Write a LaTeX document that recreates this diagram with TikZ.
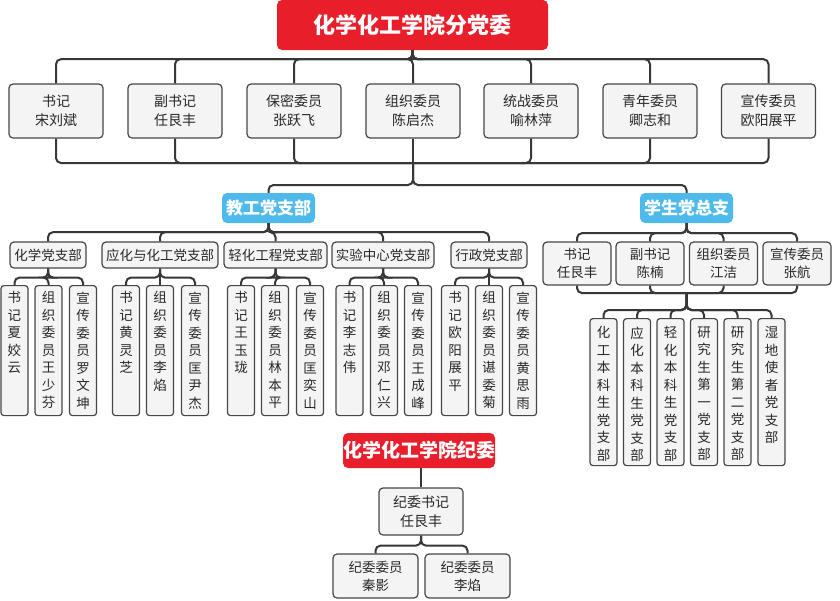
\documentclass[tikz,border=0pt]{standalone}
\usepackage{fontspec}
\setmainfont{Noto Sans CJK SC}
\definecolor{redc}{RGB}{232,30,42}
\definecolor{bluec}{RGB}{78,186,236}
\definecolor{boxc}{RGB}{244,244,244}
\definecolor{bordc}{RGB}{70,70,70}
\definecolor{linec}{RGB}{55,55,55}
\definecolor{txtc}{RGB}{40,40,40}
\def\vtloop#1{\ifx\relax#1\else#1\par\expandafter\vtloop\fi}
\newcommand\vtext[2]{\parbox[t][#1][t]{14pt}{\centering\fontsize{13.5}{17.5}\selectfont\vtloop#2\relax}}
\tikzset{
 conn/.style={draw=linec, line width=2pt, rounded corners=5pt},
 gbox/.style={draw=bordc, fill=boxc, line width=1.2pt, rounded corners=4pt, inner sep=0pt, align=center, text=txtc},
 topbox/.style={gbox, minimum width=94pt, minimum height=54pt, font=\fontsize{14}{19}\selectfont},
 redbox/.style={fill=redc, rounded corners=5pt, text=white, inner sep=0pt},
 bluebox/.style={fill=bluec, rounded corners=5pt, text=white, inner sep=0pt, minimum width=93pt, minimum height=30pt, font=\fontsize{17}{20}\selectfont\bfseries},
 brbox/.style={gbox, minimum height=26pt, font=\fontsize{13.5}{16}\selectfont},
 stbox/.style={gbox, minimum width=68pt, minimum height=43pt, font=\fontsize{13.5}{17.5}\selectfont},
 leaf/.style={gbox, anchor=north, inner xsep=6.5pt, inner ysep=6pt, rounded corners=3pt},
 jwbox/.style={gbox, font=\fontsize{13.5}{18}\selectfont},
}
\begin{document}
\begin{tikzpicture}[x=1pt,y=-1pt]
\useasboundingbox (0,0) rectangle (840,600);
% top
\node[redbox, minimum width=271pt, minimum height=50pt, font=\fontsize{22}{26}\selectfont\bfseries] (t) at (412.5,25) {化学化工学院分党委};
\node[topbox] (b1) at (56,111) {书记\\宋刘斌};
\node[topbox] (b2) at (175,111) {副书记\\任艮丰};
\node[topbox] (b3) at (294,111) {保密委员\\张跃飞};
\node[topbox] (b4) at (413,111) {组织委员\\陈启杰};
\node[topbox] (b5) at (531,111) {统战委员\\喻林萍};
\node[topbox] (b6) at (650,111) {青年委员\\卿志和};
\node[topbox] (b7) at (768.5,111) {宣传委员\\欧阳展平};
\foreach \i in {1,...,7}{\draw[conn] (t.south) -- ++(0,9) -| (b\i.north);}
\coordinate (sum1) at (413,163);
\foreach \i in {1,...,7}{\draw[conn] (b\i.south) |- (sum1);}
% second level
\node[bluebox] (jg) at (268.5,208) {教工党支部};
\node[bluebox] (xs) at (686.5,208) {学生党总支};
\draw[conn] (sum1) -- ++(0,22) -| (jg.north);
\draw[conn] (sum1) -- ++(0,22) -| (xs.north);
% jiaogong branches
\node[brbox, minimum width=76pt] (c1) at (48,255) {化学党支部};
\node[brbox, minimum width=116pt] (c2) at (160,255) {应化与化工党支部};
\node[brbox, minimum width=103pt] (c3) at (275.5,255) {轻化工程党支部};
\node[brbox, minimum width=102pt] (c4) at (383,255) {实验中心党支部};
\node[brbox, minimum width=76pt] (c5) at (489,255) {行政党支部};
\foreach \i in {1,...,5}{\draw[conn] (jg.south) -- ++(0,9) -| (c\i.north);}
% leaves
\node[leaf] (l11) at (14.5,285) {\vtext{118pt}{书记夏姣云}};
\node[leaf] (l12) at (48.5,285) {\vtext{118pt}{组织委员王少芬}};
\node[leaf] (l13) at (83,285) {\vtext{118pt}{宣传委员罗文坤}};
\node[leaf] (l21) at (126,285) {\vtext{118pt}{书记黄灵芝}};
\node[leaf] (l22) at (160,285) {\vtext{118pt}{组织委员李焰}};
\node[leaf] (l23) at (195,285) {\vtext{118pt}{宣传委员匡尹杰}};
\node[leaf] (l31) at (241,285) {\vtext{118pt}{书记王玉珑}};
\node[leaf] (l32) at (275,285) {\vtext{118pt}{组织委员林本平}};
\node[leaf] (l33) at (310,285) {\vtext{118pt}{宣传委员匡奕山}};
\node[leaf] (l41) at (349.5,285) {\vtext{118pt}{书记李志伟}};
\node[leaf] (l42) at (384,285) {\vtext{118pt}{组织委员邓仁兴}};
\node[leaf] (l43) at (418,285) {\vtext{118pt}{宣传委员王成峰}};
\node[leaf] (l51) at (455,285) {\vtext{118pt}{书记欧阳展平}};
\node[leaf] (l52) at (489,285) {\vtext{118pt}{组织委员谌委菊}};
\node[leaf] (l53) at (523,285) {\vtext{118pt}{宣传委员黄思雨}};
\foreach \i in {1,...,5}{\foreach \j in {1,2,3}{\draw[conn] (c\i.south) -- ++(0,9) -| (l\i\j.north);}}
% student
\node[stbox] (s1) at (577,263.5) {书记\\任艮丰};
\node[stbox] (s2) at (650,263.5) {副书记\\陈楠};
\node[stbox] (s3) at (723.5,263.5) {组织委员\\江洁};
\node[stbox] (s4) at (797,263.5) {宣传委员\\张航};
\foreach \i in {1,...,4}{\draw[conn] (xs.south) -- ++(0,10) -| (s\i.north);}
\coordinate (sum2) at (686.5,293);
\foreach \i in {1,...,4}{\draw[conn] (s\i.south) |- (sum2);}
\node[leaf, inner ysep=8pt] (m1) at (603.5,318) {\vtext{131pt}{化工本科生党支部}};
\node[leaf, inner ysep=8pt] (m2) at (637,318) {\vtext{131pt}{应化本科生党支部}};
\node[leaf, inner ysep=8pt] (m3) at (670.5,318) {\vtext{131pt}{轻化本科生党支部}};
\node[leaf, inner ysep=8pt] (m4) at (704,318) {\vtext{131pt}{研究生第一党支部}};
\node[leaf, inner ysep=8pt] (m5) at (737.5,318) {\vtext{131pt}{研究生第二党支部}};
\node[leaf, inner ysep=8pt] (m6) at (771.5,318) {\vtext{131pt}{湿地使者党支部}};
\foreach \i in {1,...,6}{\draw[conn] (sum2) -- ++(0,17) -| (m\i.north);}
% discipline
\node[redbox, minimum width=152pt, minimum height=35pt, font=\fontsize{19}{22}\selectfont\bfseries] (jw) at (419,450.5) {化学化工学院纪委};
\node[jwbox, minimum width=84pt, minimum height=47pt, font=\fontsize{14}{19}\selectfont] (jws) at (421,511.5) {纪委书记\\任艮丰};
\node[jwbox, minimum width=85pt, minimum height=44pt] (jc1) at (375.5,576) {纪委委员\\秦影};
\node[jwbox, minimum width=85pt, minimum height=44pt] (jc2) at (467.5,576) {纪委委员\\李焰};
\draw[conn] (jws.north |- jw.south) -- (jws.north);
\draw[conn] (jws.south) -- ++(0,10) -| (jc1.north);
\draw[conn] (jws.south) -- ++(0,10) -| (jc2.north);
\end{tikzpicture}
\end{document}
